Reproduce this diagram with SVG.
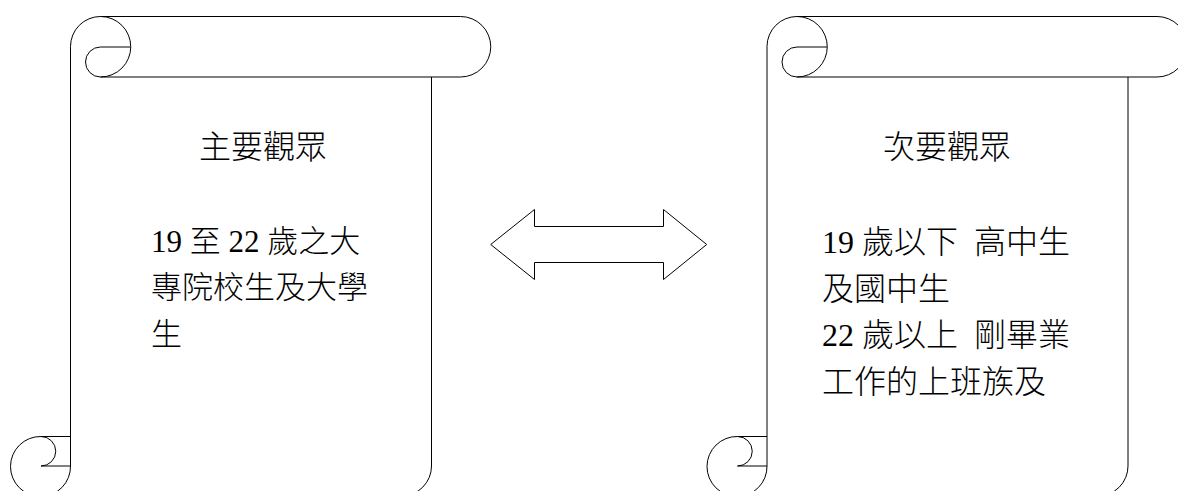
<svg xmlns="http://www.w3.org/2000/svg" width="1178" height="491" viewBox="0 0 1178 491">
<style>
.scroll{fill:none;stroke:#000;stroke-width:1}
.t{font-family:"Liberation Serif","Noto Sans CJK TC",serif;font-weight:300;fill:#000}
</style>
<rect width="1178" height="491" fill="#fff"/>
<g id="scroll-main">
<path class="scroll" d="M70.5,466 V46.5 A30,30 0 0 1 100.5,16.5 H460.5 A30.25,30.25 0 0 1 460.5,77 H100.5"/>
<path class="scroll" d="M100.5,16.5 A30.25,30.25 0 0 1 100.5,77"/>
<path class="scroll" d="M130.5,47 H100.5 A15,15 0 0 0 100.5,77"/>
<path class="scroll" d="M431.5,77 V466 A30,30 0 0 1 401.5,496 H40.5"/>
<path class="scroll" d="M70.5,466 A30,30 0 1 1 41,436.5 H70.5 M41,436.5 A14.75,14.75 0 0 1 41,466 H70.5"/>
<text class="t" x="199" y="158" font-size="32">主要觀眾</text>
<text class="t" font-size="31" xml:space="preserve"><tspan x="151" y="252">19 至 22 歲之大</tspan><tspan x="151" y="298">專院校生及大學</tspan><tspan x="151" y="345">生</tspan></text>
</g>
<g id="scroll-secondary">
<g transform="translate(696.5,0)">
<path class="scroll" d="M70.5,466 V46.5 A30,30 0 0 1 100.5,16.5 H460.5 A30.25,30.25 0 0 1 460.5,77 H100.5"/>
<path class="scroll" d="M100.5,16.5 A30.25,30.25 0 0 1 100.5,77"/>
<path class="scroll" d="M130.5,47 H100.5 A15,15 0 0 0 100.5,77"/>
<path class="scroll" d="M431.5,77 V466 A30,30 0 0 1 401.5,496 H40.5"/>
<path class="scroll" d="M70.5,466 A30,30 0 1 1 41,436.5 H70.5 M41,436.5 A14.75,14.75 0 0 1 41,466 H70.5"/>
</g>
<text class="t" x="883" y="158" font-size="32">次要觀眾</text>
<text class="t" font-size="32" xml:space="preserve"><tspan x="822" y="253">19 歲以下  高中生</tspan><tspan x="822" y="300">及國中生</tspan><tspan x="822" y="346">22 歲以上  剛畢業</tspan><tspan x="822" y="393">工作的上班族及</tspan></text>
</g>
<g id="connectors">
<polygon class="scroll" points="490.7,244.5 534.5,209.5 534.5,226.5 663.5,226.5 663.5,209.5 706.7,244.5 663.5,279.5 663.5,262.5 534.5,262.5 534.5,279.5"/>
</g>
</svg>
